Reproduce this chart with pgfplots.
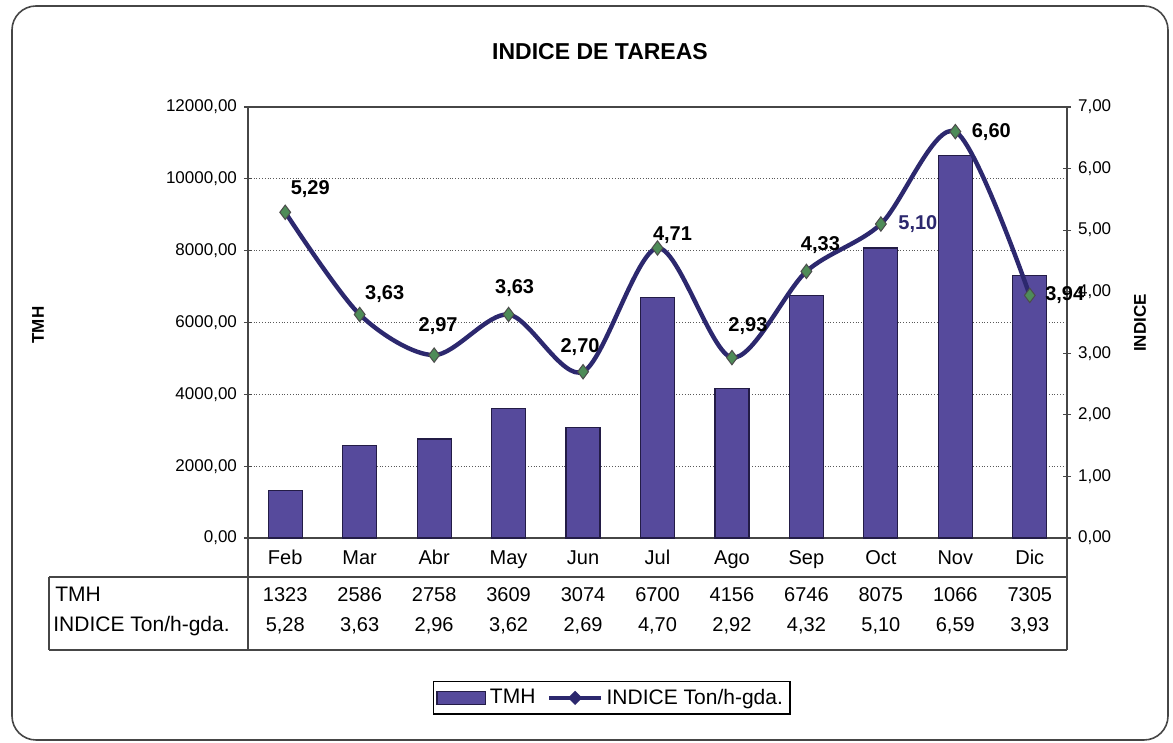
\documentclass[border=0pt]{standalone}
\usepackage{pgfplots}
\pgfplotsset{compat=1.18}
\usepackage{pgfplotstable}
\usepackage{fontspec}
\setmainfont{Liberation Sans}
\definecolor{barc}{RGB}{86,74,156}
\definecolor{bard}{RGB}{35,28,70}
\definecolor{linec}{RGB}{44,40,110}
\definecolor{mkc}{RGB}{78,140,88}
\definecolor{axc}{RGB}{70,70,70}
\pgfplotstableread{
x tmh tmhlbl idx idxtab lbl dx dy
0 1323 1323 5.29 5,28 5,29 12.5 11.5
1 2586 2586 3.63 3,63 3,63 12.5 10
2 2758 2758 2.97 2,96 2,97 2 14.5
3 3609 3609 3.63 3,62 3,63 3 13
4 3074 3074 2.70 2,69 2,70 -1.5 12.5
5 6700 6700 4.71 4,70 4,71 7.5 6.5
6 4156 4156 2.93 2,92 2,93 8 16
7 6746 6746 4.33 4,32 4,33 7 13
8 8075 8075 5.10 5,10 \textcolor{linec}{5,10} 18.5 0
9 10660 1066 6.60 6,59 6,60 18 0
10 7305 7305 3.94 3,93 3,94 17.5 0
}\datatab
\begin{document}
\begin{tikzpicture}[x=0.5pt,y=0.5pt]
\useasboundingbox (0,0) rectangle (1173,743);
\draw[axc, line width=0.8pt, rounded corners=12pt] (12,737) rectangle (1168,3);
\pgfplotsset{
  every axis/.append style={
    scaled y ticks=false,
    /pgf/number format/assume math mode=true,
    /pgf/number format/.cd, fixed, fixed zerofill, precision=2, use comma, 1000 sep={},
  },
}
\begin{axis}[
  at={(124pt,102.5pt)}, anchor=south west,
  width=409.5pt, height=215.5pt, scale only axis,
  xmin=-0.5, xmax=10.5, ymin=0, ymax=12000,
  ytick={0,2000,...,12000},
  xtick={0,...,10},
  xticklabels={Feb,Mar,Abr,May,Jun,Jul,Ago,Sep,Oct,Nov,Dic},
  xticklabel style={anchor=base, yshift=-11.5pt, font=\fontsize{10}{12}\selectfont},
  yticklabel style={font=\fontsize{8.5}{10}\selectfont},
  xtick style={draw=none},
  ytick pos=left,
  tick align=center, major tick length=4pt,
  ymajorgrids, grid style={densely dotted, black!65, line width=0.6pt},
  axis line style={axc, line width=0.8pt},
  every tick/.style={axc, line width=0.6pt},
  clip=false,
]
\addplot[ybar, bar width=17pt, fill=barc, draw=bard, line width=0.6pt] table[x=x, y=tmh] {\datatab};
\end{axis}
\begin{axis}[
  at={(124pt,102.5pt)}, anchor=south west,
  width=409.5pt, height=215.5pt, scale only axis,
  xmin=-0.5, xmax=10.5, ymin=0, ymax=7,
  ytick={0,1,...,7},
  axis x line=none, axis y line*=right,
  tick align=center, major tick length=4pt,
  yticklabel style={font=\fontsize{8.5}{10}\selectfont},
  axis line style={axc, line width=0.8pt},
  every tick/.style={axc, line width=0.6pt},
  clip=false,
  legend style={at={(0.444,-0.371)}, anchor=center, draw=black, line width=0.6pt,
    legend columns=2, font=\fontsize{10.5}{12}\selectfont, inner sep=1.5pt,
    /tikz/every even column/.append style={column sep=4pt}},
  legend cell align=left,
]
\addlegendimage{legend image code/.code={\draw[fill=barc, draw=bard, line width=0.6pt] (0cm,-0.11cm) rectangle (0.85cm,0.11cm);}}
\addlegendentry{TMH}
\addlegendimage{legend image code/.code={\draw[linec, line width=2pt] (0cm,0cm) -- (0.9cm,0cm);
     \fill[linec] (0.45cm,0.11cm) -- (0.56cm,0cm) -- (0.45cm,-0.11cm) -- (0.34cm,0cm) -- cycle;}}
\addlegendentry{INDICE Ton/h-gda.}
\addplot[forget plot, linec, line width=2.2pt, smooth, tension=0.5, mark=diamond*,
  mark size=3.6pt, mark options={fill=mkc, draw=black!70, line width=0.5pt},
  point meta=explicit symbolic,
  nodes near coords,
  visualization depends on={\thisrow{dx} \as \dx},
  visualization depends on={\thisrow{dy} \as \dy},
  nodes near coords style={anchor=center, xshift=\dx pt, yshift=\dy pt,
     font=\bfseries\fontsize{10}{12}\selectfont, text=black},
] table[x=x, y=idx, meta=lbl] {\datatab};
\addplot[draw=none, forget plot, point meta=explicit symbolic, nodes near coords,
  nodes near coords style={anchor=base, yshift=-32pt, font=\fontsize{10}{12}\selectfont, text=black}]
  table[x=x, y expr=0, meta=tmhlbl] {\datatab};
\addplot[draw=none, forget plot, point meta=explicit symbolic, nodes near coords,
  nodes near coords style={anchor=base, yshift=-47pt, font=\fontsize{10}{12}\selectfont, text=black}]
  table[x=x, y expr=0, meta=idxtab] {\datatab};
\end{axis}
% data table frame
\draw[axc, line width=0.7pt] (49,166) -- (1067,166);
\draw[axc, line width=0.7pt] (49,93) -- (1067,93);
\draw[axc, line width=0.7pt] (49,166) -- (49,93);
\draw[axc, line width=0.7pt] (248,205) -- (248,93);
\draw[axc, line width=0.7pt] (1067,205) -- (1067,93);
\node[anchor=base west, inner sep=0pt, font=\fontsize{10.5}{12}\selectfont] at (55,141) {TMH};
\node[anchor=base west, inner sep=0pt, font=\fontsize{10.5}{12}\selectfont] at (53,111) {INDICE Ton/h-gda.};
% titles
\node[font=\bfseries\fontsize{11.5}{13}\selectfont] at (600,691) {INDICE DE TAREAS};
\node[rotate=90, font=\bfseries\fontsize{8.5}{10}\selectfont] at (38,418) {TMH};
\node[rotate=90, font=\bfseries\fontsize{8.5}{10}\selectfont] at (1140,420) {INDICE};
\end{tikzpicture}
\end{document}
